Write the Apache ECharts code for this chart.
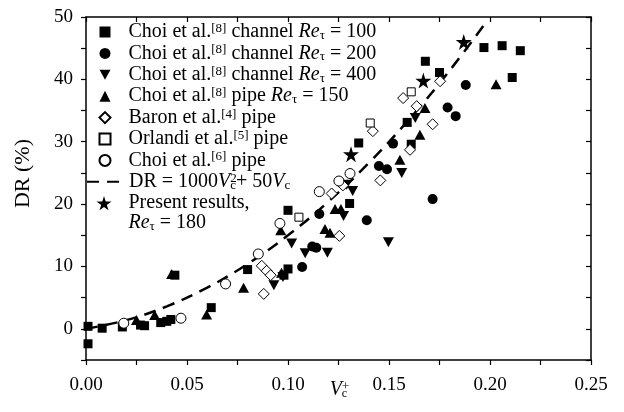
<!DOCTYPE html>
<html>
<head>
<meta charset="utf-8">
<script src="https://cdn.jsdelivr.net/npm/echarts@6/dist/echarts.min.js"></script>
<style>
  html, body { margin: 0; padding: 0; background: #fff; }
  .layer { position: absolute; left: 0; top: 0; width: 624px; height: 412px; }
  #frame { z-index: 2; pointer-events: none; }
  #chart { z-index: 1; }
</style>
</head>
<body>
<div id="chart" class="layer"></div>
<div id="frame" class="layer"></div>
<script>
// [Vc+, DR %]
var choi100 = [[0.001, 0.4], [0.001, -2.4], [0.008, 0.1], [0.018, 0.3], [0.027, 0.6], [0.029, 0.5], [0.037, 1.0], [0.040, 1.2],
	[0.042, 1.5], [0.044, 8.6], [0.062, 3.4], [0.080, 9.5], [0.098, 8.6], [0.100, 9.6], [0.100, 19.0], [0.1305, 20.1],
	[0.135, 29.8], [0.159, 33.1], [0.161, 29.6], [0.168, 42.9], [0.175, 41.1], [0.197, 45.1], [0.206, 45.4],
	[0.211, 40.3], [0.215, 44.6]];
var choi200 = [[0.107, 9.9], [0.112, 13.2], [0.114, 13.0], [0.1155, 18.4], [0.139, 17.4], [0.145, 26.1], [0.149, 25.6],
	[0.152, 29.7], [0.1716, 20.8], [0.179, 35.5], [0.183, 34.1], [0.188, 39.1]];
var choi400 = [[0.093, 7.0], [0.0975, 8.3], [0.1018, 13.7], [0.1085, 12.1], [0.1195, 12.2], [0.1275, 18.1], [0.129, 23.1],
	[0.132, 22.1], [0.1497, 13.9], [0.1563, 25.0], [0.163, 33.8]];
var pipe150 = [[0.025, 1.4], [0.034, 2.2], [0.0424, 8.8], [0.0597, 2.3], [0.078, 6.6], [0.0968, 9.0], [0.0964, 15.8],
	[0.1183, 16.0], [0.1208, 15.4], [0.1233, 19.2], [0.1262, 19.2], [0.1554, 27.1], [0.1653, 31.1], [0.1678, 35.4],
	[0.203, 39.2]];
var baron = [[0.087, 10.1], [0.0894, 9.3], [0.0914, 8.6], [0.088, 5.6], [0.1216, 21.7], [0.1272, 23.0], [0.1254, 14.9],
	[0.142, 31.7], [0.1457, 23.8], [0.157, 37.0], [0.1637, 35.7], [0.1604, 28.7], [0.1716, 32.8], [0.1753, 39.7]];
var orlandi = [[0.1054, 17.9], [0.1407, 33.0], [0.161, 38.0]];
var choiPipe = [[0.0187, 0.9], [0.047, 1.7], [0.0691, 7.2], [0.0853, 12.0], [0.096, 16.9], [0.1155, 22.0], [0.1252, 23.7],
	[0.1307, 24.9]];
var present = [[0.1312, 28.0], [0.167, 39.8], [0.187, 46.0]];
// dashed fit, points
var fitLine = [[0, 0], [0.02, 1.4], [0.04, 3.6], [0.06, 6.6], [0.08, 10.4], [0.10, 15.0], [0.12, 20.4], [0.14, 26.6],
	[0.16, 33.6], [0.18, 41.4], [0.199, 49.6]];

var xTicks = ['0.00', '0.05', '0.10', '0.15', '0.20', '0.25'];
var yTicks = [0, 10, 20, 30, 40, 50];

var serif = 'Liberation Serif';
var starPath = 'path://M50,0 L61,35 L98,35 L68,57 L79,91 L50,70 L21,91 L32,57 L2,35 L39,35 Z';
var downTri = 'path://M0,0 L20,0 L10,18 Z';

var fs = 20;
var rich = {
	g: { width: 13, fontFamily: serif, fontSize: fs },
	g2: { width: 3, fontFamily: serif, fontSize: fs },
	g3: { width: 12, fontFamily: serif, fontSize: fs },
	sup: { fontFamily: serif, fontSize: 13, lineHeight: 11, verticalAlign: 'top' },
	sub: { fontFamily: serif, fontSize: 13, lineHeight: 8, verticalAlign: 'bottom' },
	subn: { fontFamily: serif, fontSize: 13, lineHeight: 8, verticalAlign: 'bottom', padding: [0, 0, 0, -6.5] },
	it: { fontFamily: serif, fontSize: fs, fontStyle: 'italic', lineHeight: 20 }
};

var names = {
	'c100': '{g| }Choi et al.{sup|[8]} channel {it|Re}{sub|τ} = 100',
	'c200': '{g| }Choi et al.{sup|[8]} channel {it|Re}{sub|τ} = 200',
	'c400': '{g| }Choi et al.{sup|[8]} channel {it|Re}{sub|τ} = 400',
	'p150': '{g| }Choi et al.{sup|[8]} pipe {it|Re}{sub|τ} = 150',
	'baron': '{g| }Baron et al.{sup|[4]} pipe',
	'orlandi': '{g| }Orlandi et al.{sup|[5]} pipe',
	'cpipe': '{g| }Choi et al.{sup|[6]} pipe',
	'fit': '{g2| }DR = 1000{it|V}{sup|2}{subn|c}+ 50{it|V}{sub|c}',
	'present': '{g3| }Present results,\n{g3| }{it|Re}{sub|τ} = 180'
};

var textBase = { fontFamily: serif, fontSize: fs, color: '#000', lineHeight: 20, rich: rich };
var legendFmt = function(name) { return names[name]; };
function gridBox() {
	return { left: 86, right: 33, top: 17, bottom: 52, outerBoundsMode: 'none', containLabel: false };
}

function scatter(name, data, symbol, size, filled) {
	return {
		name: name,
		type: 'scatter',
		data: data,
		symbol: symbol,
		symbolSize: size,
		itemStyle: filled ? { color: '#000', opacity: 1 } : { color: '#fff', borderColor: '#000', borderWidth: 1, opacity: 1 }
	};
}

function axisLine(show) {
	return { show: show, onZero: false, lineStyle: { color: '#000', width: 1.5 } };
}
function ticks(show, inside) {
	return { show: show, inside: inside, length: 5, lineStyle: { color: '#000', width: 1.2 } };
}
function xAx(pos, lines, inside) {
	return { type: 'value', min: 0, max: 0.25, interval: 0.025, position: pos,
		axisLine: axisLine(lines), axisTick: ticks(lines, inside), axisLabel: { show: false }, splitLine: { show: false } };
}
function yAx(pos, lines, inside) {
	return { type: 'value', min: -5, max: 50, interval: 5, position: pos,
		axisLine: axisLine(lines), axisTick: ticks(lines, inside), axisLabel: { show: false }, splitLine: { show: false } };
}

// main layer: labels, legend and data
var xMain = xAx('bottom', false, false);
xMain.axisLabel = {
	show: true, margin: 16, fontFamily: serif, fontSize: 19, color: '#000',
	formatter: function(v) {
		var s = v.toFixed(2);
		return xTicks.indexOf(s) >= 0 && Math.round(v * 1000) % 50 === 0 ? s : '';
	}
};
xMain.name = '{v|V}{p|+}{c|c}';
xMain.nameLocation = 'middle';
xMain.nameGap = 20;
xMain.nameMoveOverlap = false;
xMain.nameTextStyle = {
	fontFamily: serif, fontSize: fs, color: '#000', lineHeight: 20,
	rich: {
		v: { fontFamily: serif, fontSize: fs, fontStyle: 'italic', lineHeight: 20 },
		p: { fontFamily: serif, fontSize: 13, lineHeight: 10, verticalAlign: 'top' },
		c: { fontFamily: serif, fontSize: 12, lineHeight: 8, verticalAlign: 'bottom', padding: [0, 0, 0, -7.5] }
	}
};
var yMain = yAx('left', false, false);
yMain.axisLabel = {
	show: true, margin: 13, fontFamily: serif, fontSize: 19, color: '#000',
	formatter: function(v) { return yTicks.indexOf(v) >= 0 ? String(v) : ''; }
};
yMain.name = 'DR (%)';
yMain.nameLocation = 'middle';
yMain.nameGap = 52;
yMain.nameTextStyle = { fontFamily: serif, fontSize: 22, color: '#000', padding: [0, 0, 0, 30] };

var option = {
	animation: false,
	backgroundColor: '#fff',
	grid: gridBox(),
	legend: [{
		orient: 'vertical', left: 98.5, top: 22, padding: 0, itemGap: 1.4,
		itemWidth: 11, itemHeight: 11, selectedMode: false,
		data: ['c100', 'c200', 'c400', 'p150', 'baron', 'orlandi', 'cpipe'],
		formatter: legendFmt, textStyle: textBase
	}, {
		orient: 'vertical', left: 86, top: 171.8, padding: 0,
		itemWidth: 34, itemHeight: 12, selectedMode: false,
		itemStyle: { color: 'rgba(0,0,0,0)', borderWidth: 0 },
		data: ['fit'], formatter: legendFmt, textStyle: textBase
	}, {
		orient: 'vertical', left: 96.5, top: 173.2, padding: 0,
		itemWidth: 15, itemHeight: 15, selectedMode: false,
		data: ['present'], formatter: legendFmt,
		textStyle: Object.assign({}, textBase, { padding: [20, 0, 0, 0] })
	}],
	xAxis: [xMain],
	yAxis: [yMain],
	series: [
		{
			name: 'fit', type: 'line', data: fitLine, smooth: 0.4, symbol: 'none', showSymbol: false, z: 1,
			lineStyle: { color: '#000', width: 2.5, type: [12, 8] },
			itemStyle: { color: '#000' }
		},
		scatter('c100', choi100, 'rect', 9, true),
		scatter('c200', choi200, 'circle', 10, true),
		scatter('c400', choi400, downTri, [11, 10], true),
		scatter('p150', pipe150, 'triangle', [11, 10], true),
		scatter('baron', baron, 'diamond', 11, false),
		scatter('orlandi', orlandi, 'rect', 8, false),
		scatter('cpipe', choiPipe, 'circle', 10, false),
		scatter('present', present, starPath, 16, true)
	]
};

var chart = echarts.init(document.getElementById('chart'));
chart.setOption(option);

// top layer: box frame with ticks, transparent canvas
var frame = echarts.init(document.getElementById('frame'));
frame.setOption({
	animation: false,
	backgroundColor: 'rgba(0,0,0,0)',
	grid: gridBox(),
	xAxis: [xAx('bottom', true, false), xAx('top', true, true)],
	yAxis: [yAx('left', true, false), yAx('right', true, true)],
	series: [{ type: 'scatter', data: [] }]
});
</script>
</body>
</html>
